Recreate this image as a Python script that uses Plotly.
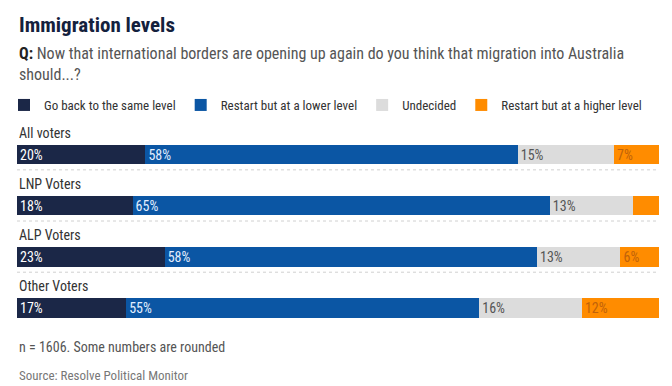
import plotly.graph_objects as go

categories = ["All voters", "LNP Voters", "ALP Voters", "Other Voters"]
series_names = ["Go back to the same level", "Restart but at a lower level",
                "Undecided", "Restart but at a higher level"]
go_back = [20, 18, 23, 17]
lower = [58, 65, 58, 55]
undecided = [15, 13, 13, 16]
higher = [7, 4, 6, 12]

colors = ["#1b2747", "#0b56a4", "#dcdcdc", "#ff8c00"]
text_colors = ["#ffffff", "#e3efff", "#555555", "#c0620a"]

FONT = "Liberation Sans Narrow, Roboto Condensed, Roboto, sans-serif"

# the page body has an 8px margin; figure is sized to fit inside the window
OFF = 8
W, H = 672 - OFF, 386 - OFF
L, R, T, B = 17 - OFF, 13, 110 - OFF, 56
plot_w = W - L - R
plot_h = H - T - B
px_per_unit = 51.17
y_top = -(154.5 - 110) / px_per_unit
y_bot = y_top + plot_h / px_per_unit


def py(pixel):
    """target window pixel -> paper y"""
    return (H - B - (pixel - OFF)) / plot_h


def px(pixel):
    return (pixel - OFF - L) / plot_w


ypos = list(range(len(categories)))
fig = go.Figure()
for name, vals, col, tcol in zip(series_names, [go_back, lower, undecided, higher], colors, text_colors):
    fig.add_trace(go.Bar(
        name=name, orientation="h", y=ypos, x=vals,
        marker=dict(color=col, line=dict(width=0)),
        text=[f"{v}%" if v >= 5 else "" for v in vals],
        textposition="inside", insidetextanchor="start", textangle=0,
        constraintext="none",
        insidetextfont=dict(color=tcol, size=14, family=FONT),
        width=0.38, hoverinfo="skip",
    ))

annotations = []
for i, c in enumerate(categories):
    annotations.append(dict(x=0, y=i, xref="x", yref="y", text=c, showarrow=False,
                            xanchor="left", yanchor="middle", yshift=22,
                            font=dict(size=14, color="#333333", family=FONT)))

annotations += [
    dict(x=0, y=py(25), xref="paper", yref="paper", text="<b>Immigration levels</b>",
         showarrow=False, xanchor="left", yanchor="middle",
         font=dict(size=21, color="#14213d", family=FONT)),
    dict(x=0, y=py(64), xref="paper", yref="paper",
         text="<b><span style='color:#222'>Q:</span></b> Now that international borders are opening up again do you think that migration into Australia<br>should...?",
         showarrow=False, xanchor="left", yanchor="middle", align="left",
         font=dict(size=16, color="#555555", family=FONT)),
    dict(x=0, y=py(347), xref="paper", yref="paper", text="n = 1606. Some numbers are rounded",
         showarrow=False, xanchor="left", yanchor="middle",
         font=dict(size=14, color="#555555", family=FONT)),
    dict(x=0, y=py(375), xref="paper", yref="paper", text="Source: Resolve Political Monitor",
         showarrow=False, xanchor="left", yanchor="middle",
         font=dict(size=13, color="#777777", family=FONT)),
]

shapes = []
for i in range(len(categories) - 1):
    shapes.append(dict(type="line", xref="x", yref="y", x0=0, x1=100, y0=i + 0.3, y1=i + 0.3,
                       line=dict(color="#d0d0d0", width=1, dash="dot")))

fig.update_layout(
    width=W, height=H, barmode="stack",
    margin=dict(l=L, r=R, t=T, b=B, pad=0, autoexpand=False),
    paper_bgcolor="white", plot_bgcolor="white",
    xaxis=dict(range=[0, 100], visible=False, fixedrange=True),
    yaxis=dict(range=[y_bot, y_top], visible=False, fixedrange=True),
    showlegend=True,
    legend=dict(orientation="h", x=px(4), xanchor="left", y=py(105), yanchor="middle",
                font=dict(size=13, color="#333333", family=FONT),
                itemwidth=30, traceorder="normal", bgcolor="rgba(0,0,0,0)",
                borderwidth=0),
    annotations=annotations, shapes=shapes,
    uniformtext=dict(minsize=14, mode="show"),
    font=dict(family=FONT),
)

fig.write_html("out.html", config={"displayModeBar": False, "staticPlot": True})
